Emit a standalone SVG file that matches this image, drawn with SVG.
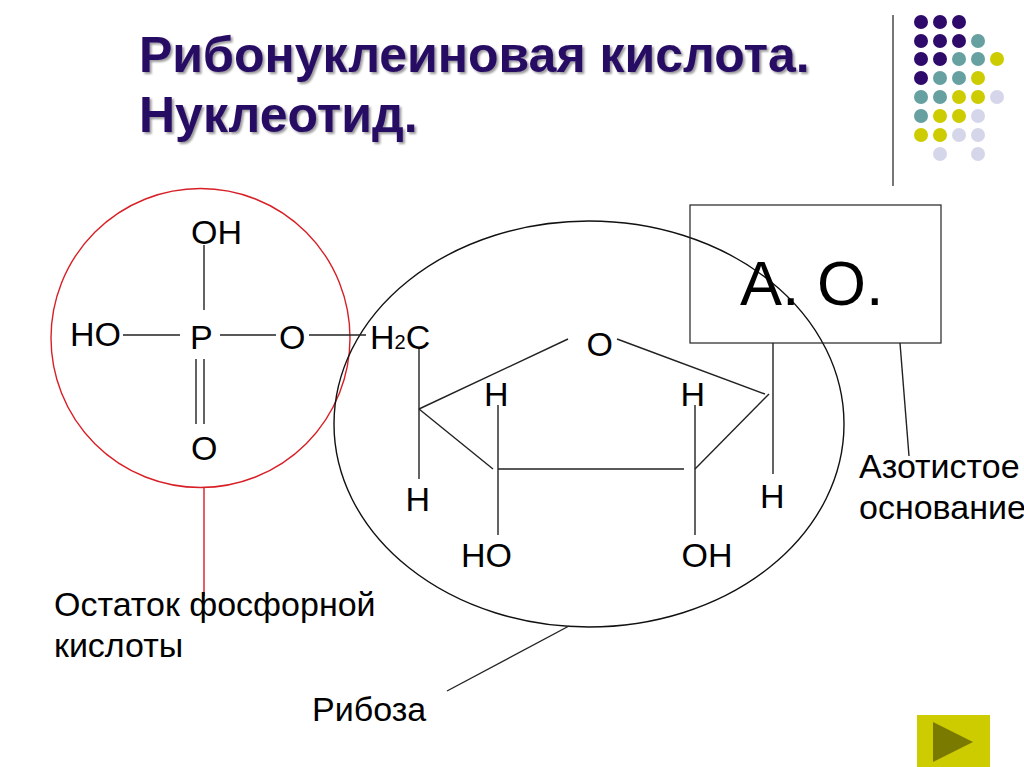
<svg xmlns="http://www.w3.org/2000/svg" width="1024" height="767" viewBox="0 0 1024 767">
<defs>
<filter id="sh" x="-5%" y="-20%" width="110%" height="140%"><feDropShadow dx="2" dy="2" stdDeviation="1.2" flood-color="#000" flood-opacity="0.4"/></filter>
</defs>
<style>
text{font-family:"Liberation Sans",Arial,sans-serif;fill:#000}
.t{font-size:34px}
.l{font-size:34px}
.title{font-size:50px;font-weight:bold;fill:#280a64;filter:url(#sh)}
.b{stroke:#222;stroke-width:1.4;fill:none}
.p{fill:#2e0a6b}.g{fill:#66a0a0}.y{fill:#cccc00}.w{fill:#d6d6ea}
</style>
<rect width="1024" height="767" fill="#fff"/>
<g id="title"><text class="title" x="139" y="72">Рибонуклеиновая кислота.</text><text class="title" x="139" y="132">Нуклеотид.</text></g>
<g id="decor">
<line x1="893" y1="15" x2="893" y2="186" stroke="#555" stroke-width="1.6"/>
<g class="p"><circle cx="921" cy="22" r="7"/><circle cx="940" cy="22" r="7"/><circle cx="959" cy="22" r="7"/><circle cx="921" cy="41" r="7"/><circle cx="940" cy="41" r="7"/><circle cx="959" cy="41" r="7"/><circle cx="921" cy="59" r="7"/><circle cx="940" cy="59" r="7"/><circle cx="921" cy="78" r="7"/></g>
<g class="g"><circle cx="978" cy="41" r="7"/><circle cx="959" cy="59" r="7"/><circle cx="978" cy="59" r="7"/><circle cx="940" cy="78" r="7"/><circle cx="959" cy="78" r="7"/><circle cx="921" cy="97" r="7"/><circle cx="940" cy="97" r="7"/><circle cx="921" cy="116" r="7"/></g>
<g class="y"><circle cx="997" cy="59" r="7"/><circle cx="978" cy="78" r="7"/><circle cx="959" cy="97" r="7"/><circle cx="978" cy="97" r="7"/><circle cx="940" cy="116" r="7"/><circle cx="959" cy="116" r="7"/><circle cx="921" cy="135" r="7"/><circle cx="940" cy="135" r="7"/></g>
<g class="w"><circle cx="997" cy="97" r="7"/><circle cx="978" cy="116" r="7"/><circle cx="959" cy="135" r="7"/><circle cx="978" cy="135" r="7"/><circle cx="940" cy="154" r="7"/><circle cx="978" cy="154" r="7"/></g>
</g>
<g id="nav"><rect x="917" y="715" width="73" height="52" fill="#cccc00"/><polygon points="933,722 973,742 933,762" fill="#7a7a00"/></g>
<g id="phosphate-circle"><circle cx="200.500" cy="338" r="149.500" fill="none" stroke="#d81f26" stroke-width="1.4"/></g>
<g id="ribose-ellipse"><ellipse cx="589" cy="424" rx="255" ry="203" fill="none" stroke="#111" stroke-width="1.4"/></g>
<g id="base-box"><rect x="690" y="205" width="251" height="138" fill="none" stroke="#222" stroke-width="1.2"/><text x="740" y="305" style="font-size:63px">А. О.</text></g>
<g id="connectors">
<line class="b" x1="204" y1="245" x2="204" y2="310"/>
<line class="b" x1="123" y1="335" x2="180" y2="335"/>
<line class="b" x1="220" y1="335" x2="276" y2="335"/>
<line class="b" x1="309" y1="335" x2="366" y2="335"/>
<line class="b" x1="196" y1="359" x2="196" y2="424"/>
<line class="b" x1="204" y1="359" x2="204" y2="424"/>
<line class="b" x1="419" y1="349" x2="419" y2="479"/>
<line class="b" x1="419" y1="409" x2="568" y2="339"/>
<line class="b" x1="419" y1="409" x2="493" y2="469"/>
<line class="b" x1="498" y1="469" x2="684" y2="469"/>
<line class="b" x1="498" y1="405" x2="498" y2="535"/>
<line class="b" x1="695" y1="405" x2="695" y2="535"/>
<line class="b" x1="695" y1="469" x2="769" y2="394"/>
<line class="b" x1="617" y1="339" x2="765" y2="394"/>
<line class="b" x1="773" y1="343" x2="773" y2="474"/>
<line x1="204" y1="488" x2="204" y2="596" stroke="#d81f26" stroke-width="1.4"/>
<line class="b" x1="569" y1="626" x2="447" y2="691"/>
<line class="b" x1="900" y1="343" x2="909" y2="456"/>
</g>
<g id="labels">
<text class="t" x="191" y="244">OH</text>
<text class="t" x="70" y="346">HO</text>
<text class="t" x="190" y="349">P</text>
<text class="t" x="279" y="349">O</text>
<text class="t" x="370" y="349">H<tspan style="font-size:20px">2</tspan>C</text>
<text class="t" x="191" y="460">O</text>
<text class="t" x="586.500" y="356">O</text>
<text class="t" x="484" y="406">H</text>
<text class="t" x="680.500" y="406">H</text>
<text class="t" x="405.500" y="511">H</text>
<text class="t" x="760" y="508">H</text>
<text class="t" x="461" y="567">HO</text>
<text class="t" x="681.500" y="567">OH</text>
<text class="l" x="859" y="478">Азотистое</text>
<text class="l" x="859" y="519">основание</text>
<text class="l" x="54" y="616">Остаток фосфорной</text>
<text class="l" x="54" y="657">кислоты</text>
<text class="l" x="312" y="721">Рибоза</text>
</g>
</svg>
